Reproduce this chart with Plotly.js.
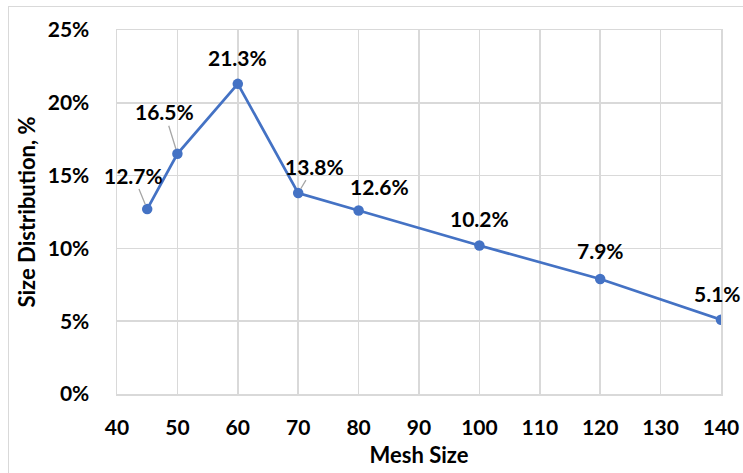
<!DOCTYPE html>
<html>
<head>
<meta charset="utf-8">
<script src="https://cdn.plot.ly/plotly-3.0.1.min.js"></script>
<style>
  html, body { margin: 0; padding: 0; background: #fff; }
  #wrap { position: relative; width: 743px; height: 473px; }
  #chart { position: absolute; left: 0; top: 0; width: 743px; height: 473px; }
  #frame { position: absolute; left: 8px; top: 6px; width: 760px; height: 480px;
           border-left: 1px solid #d9d9d9; border-top: 1px solid #d9d9d9; pointer-events: none; }
</style>
</head>
<body>
<div id="wrap">
  <div id="chart"></div>
  <div id="frame"></div>
</div>
<script>
// Mesh sizes and the share of material retained on each (percent)
const meshSizes = [45, 50, 60, 70, 80, 100, 120, 140];
const sizeDistribution = [12.7, 16.5, 21.3, 13.8, 12.6, 10.2, 7.9, 5.1];

// Label placement: pixel offset of each label centre from its point, and whether a leader line is drawn
const labelOffsetX = [-14, -13, 0, 16, 21, 0, 0, -4];
const labelOffsetY = [-34, -42, -26, -27, -24, -27, -28, -26];
const labelLeader = [true, true, false, true, false, false, false, false];

const xTicks = [40, 50, 60, 70, 80, 90, 100, 110, 120, 130, 140];
const yTicks = [0, 5, 10, 15, 20, 25];

const FONT = 'Lato, "Open Sans", sans-serif';
const blue = '#4472C4';
const grid = '#d9d9d9';
const labelFont = { family: FONT, size: 21, color: '#000', weight: 'bold' };
const titleFont = { family: FONT, size: 22, color: '#000', weight: 'bold' };

const trace = {
  x: meshSizes,
  y: sizeDistribution,
  type: 'scatter',
  mode: 'lines+markers',
  line: { color: blue, width: 2.75 },
  marker: { color: blue, size: 10.5 },
  hoverinfo: 'skip'
};

const annotations = meshSizes.map((m, i) => ({
  x: m,
  y: sizeDistribution[i],
  xref: 'x',
  yref: 'y',
  text: sizeDistribution[i].toFixed(1) + '%',
  showarrow: labelLeader[i],
  arrowhead: 0,
  arrowwidth: 1.3,
  arrowcolor: '#a6a6a6',
  standoff: 5,
  ax: labelOffsetX[i],
  ay: labelOffsetY[i],
  xshift: labelLeader[i] ? 0 : labelOffsetX[i],
  yshift: labelLeader[i] ? 0 : -labelOffsetY[i],
  font: labelFont
}));

const layout = {
  width: 743,
  height: 473,
  margin: { l: 117, r: 22, t: 30, b: 79 },
  paper_bgcolor: 'rgba(0,0,0,0)',
  plot_bgcolor: '#fff',
  showlegend: false,
  font: labelFont,
  xaxis: {
    range: [40, 140],
    tickvals: xTicks,
    ticktext: xTicks.map(String),
    showgrid: true,
    gridcolor: grid,
    gridwidth: 1.5,
    showline: true,
    linecolor: grid,
    linewidth: 1.5,
    mirror: true,
    zeroline: false,
    ticks: '',
    ticklabelstandoff: 14,
    tickfont: labelFont,
    title: { text: 'Mesh Size', standoff: 10, font: titleFont }
  },
  yaxis: {
    range: [0, 25],
    tickvals: yTicks,
    ticktext: yTicks.map(v => v + '%'),
    showgrid: true,
    gridcolor: grid,
    gridwidth: 1.5,
    showline: true,
    linecolor: grid,
    linewidth: 1.5,
    mirror: true,
    zeroline: false,
    ticks: '',
    ticklabelstandoff: 22,
    tickfont: labelFont,
    title: { text: 'Size Distribution, %', standoff: 6, font: titleFont }
  },
  annotations: annotations
};

Plotly.newPlot('chart', [trace], layout, { displayModeBar: false, staticPlot: true });
</script>
</body>
</html>
